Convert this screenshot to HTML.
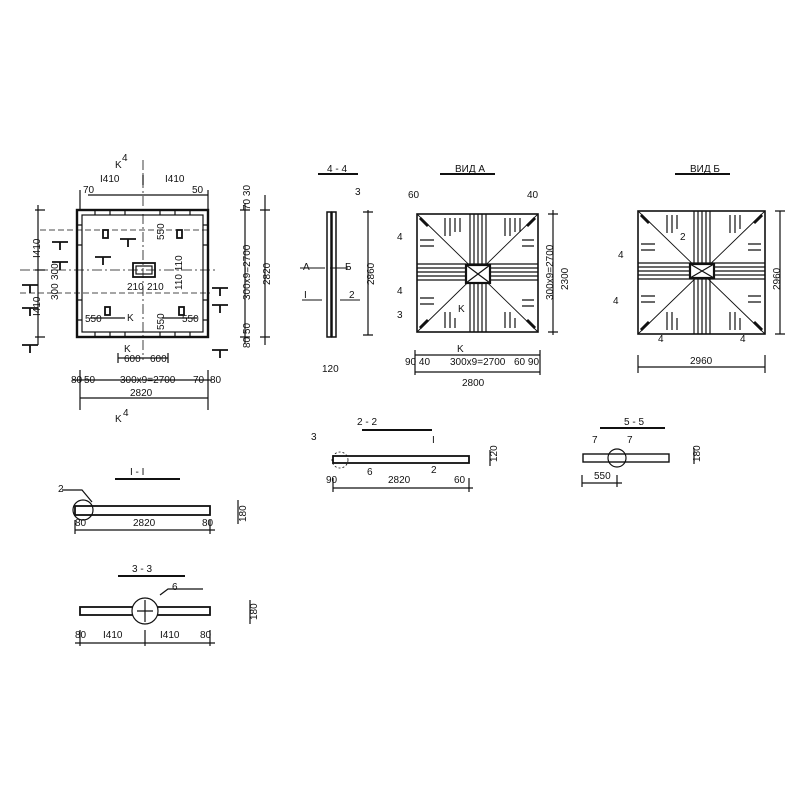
<!DOCTYPE html>
<html><head><meta charset="utf-8"><style>
html,body{margin:0;padding:0;background:#fff}
svg{display:block}
text{font-family:"Liberation Sans",sans-serif;font-size:10px;fill:#111}
</style></head><body>
<svg width="800" height="800" viewBox="0 0 800 800" xmlns="http://www.w3.org/2000/svg">
<g stroke="#111" fill="none" stroke-width="1.2">
<!-- ===== PLAN 1 ===== -->
<rect x="77" y="210" width="131" height="127" stroke-width="2.4"/>
<rect x="82" y="215" width="121" height="117"/>
<line x1="143" y1="160" x2="143" y2="360" stroke-dasharray="10,3,2,3" stroke-width="0.8"/>
<line x1="20" y1="270" x2="215" y2="270" stroke-dasharray="10,3,2,3" stroke-width="0.8"/>
<line x1="20" y1="293" x2="210" y2="293" stroke-dasharray="6,3" stroke-width="0.7"/>
<line x1="40" y1="230" x2="210" y2="230" stroke-dasharray="6,3" stroke-width="0.7"/>
<rect x="133" y="263" width="22" height="14" stroke-width="1.8"/>
<rect x="136" y="266" width="16" height="8"/>
<rect x="103" y="230" width="5" height="8" stroke-width="1.8"/>
<rect x="177" y="230" width="5" height="8" stroke-width="1.8"/>
<rect x="105" y="307" width="5" height="8" stroke-width="1.8"/>
<rect x="179" y="307" width="5" height="8" stroke-width="1.8"/>
<path d="M95 210v5M110 210v5M125 210v5M160 210v5M175 210v5M190 210v5M95 332v5M110 332v5M125 332v5M160 332v5M175 332v5M190 332v5M77 225h5M77 245h5M77 300h5M77 320h5M203 225h5M203 245h5M203 300h5M203 320h5"/>
<path d="M52 242h16M60 242v8M52 262h16M60 262v8M22 285h16M30 285v8M22 308h16M30 308v8M22 345h16M30 345v8M212 288h16M220 288v8M212 305h16M220 305v8M212 350h16M220 350v8M120 239h16M128 239v8M95 257h16M103 257v8" stroke-width="1.8"/>
<path d="M80 190v20M208 190v20M143 175v10M88 195h120"/>
<path d="M38 205v140M35 210h10M35 270h10M35 337h10"/>
<path d="M245 203v140M240 210h10M240 337h10M265 195v150M260 210h10M260 337h10"/>
<path d="M72 380h140M80 370v40M208 370v40M80 398h128M118 353v10M168 353v10M118 358h50"/>
<path d="M90 318h35M162 318h35"/>
</g>
<g>
<text x="115" y="168">K</text><text x="122" y="161" font-size="9">4</text>
<text x="100" y="182">I410</text><text x="165" y="182">I410</text>
<text x="83" y="193">70</text><text x="192" y="193">50</text>
<text x="85" y="322">550</text><text x="182" y="322">550</text>
<text x="127" y="290">210</text><text x="147" y="290">210</text>
<text x="124" y="362">600</text><text x="150" y="362">600</text>
<text x="71" y="383">80</text><text x="84" y="383">50</text>
<text x="120" y="383">300x9=2700</text>
<text x="193" y="383">70</text><text x="210" y="383">80</text>
<text x="130" y="396">2820</text>
<text x="115" y="422" font-size="12">K</text><text x="123" y="416" font-size="9">4</text>
<text x="127" y="321">K</text><text x="124" y="352">K</text>
<text transform="translate(40 258) rotate(-90)">I410</text>
<text transform="translate(40 316) rotate(-90)">I410</text>
<text transform="translate(58 280) rotate(-90)">300</text>
<text transform="translate(58 300) rotate(-90)">300</text>
<text transform="translate(164 240) rotate(-90)">550</text>
<text transform="translate(164 330) rotate(-90)">550</text>
<text transform="translate(182 290) rotate(-90)">110 110</text>
<text transform="translate(250 300) rotate(-90)">300x9=2700</text>
<text transform="translate(270 285) rotate(-90)">2820</text>
<text transform="translate(250 210) rotate(-90)">70 30</text>
<text transform="translate(250 348) rotate(-90)">80 50</text>
</g>

<!-- ===== 4-4 ===== -->
<g stroke="#111" fill="none" stroke-width="1.2">
<line x1="318" y1="174" x2="358" y2="174" stroke-width="2"/>
<rect x="327" y="212" width="4" height="125" stroke-width="1.5"/>
<rect x="332" y="212" width="4" height="125" stroke-width="1.5"/>
<path d="M368 210v125M363 212h10M363 335h10"/>
<path d="M300 268h25M330 268h18M302 300h20M340 300h20" stroke-width="0.9"/>
</g>
<g>
<text x="327" y="172">4 - 4</text><text x="355" y="195">3</text>
<text x="303" y="270">A</text><text x="345" y="270">Б</text>
<text x="304" y="298">I</text><text x="349" y="298">2</text>
<text x="322" y="372">120</text>
<text transform="translate(374 285) rotate(-90)">2860</text>
</g>

<!-- ===== VIEW A ===== -->
<g stroke="#111" fill="none" stroke-width="1.2">
<line x1="440" y1="174" x2="495" y2="174" stroke-width="2"/>
<rect x="417" y="214" width="121" height="118" stroke-width="1.6"/>
<path d="M417 214L538 332M538 214L417 332" stroke-width="0.9"/>
<path d="M470 214v118M474 214v118M478 214v118M482 214v118M486 214v118"/>
<path d="M417 264h121M417 268h121M417 272h121M417 276h121M417 280h121"/>
<rect x="466" y="265" width="24" height="18" stroke-width="2.2" fill="#fff"/>
<path d="M466 265l24 18M490 265l-24 18"/>
<path d="M445 218v18M450 218v18M455 218v14M460 218v14M505 218v18M510 218v18M515 218v14M520 218v14M445 312v16M450 312v16M455 318v10M505 312v16M510 312v16M515 318v10"/>
<path d="M420 240h14M420 246h14M420 298h14M420 304h14M522 240h12M522 246h12M522 300h12M522 306h12"/>
<path d="M420 218l8 8M535 218l-8 8M420 328l8-8M535 328l-8-8" stroke-width="3"/>
<path d="M553 210v125M548 214h10M548 332h10M415 355h125M415 350v25M540 350v25M415 372h125"/>
</g>
<g>
<text x="455" y="172">ВИД  А</text>
<text x="408" y="198">60</text><text x="527" y="198">40</text>
<text x="397" y="240">4</text><text x="397" y="294">4</text><text x="397" y="318">3</text>
<text x="458" y="312">K</text><text x="457" y="352">K</text>
<text x="405" y="365">90 40</text><text x="450" y="365">300x9=2700</text><text x="514" y="365">60 90</text>
<text x="462" y="386">2800</text>
<text transform="translate(553 300) rotate(-90)">300x9=2700</text>
<text transform="translate(568 290) rotate(-90)">2300</text>
</g>

<!-- ===== VIEW B ===== -->
<g stroke="#111" fill="none" stroke-width="1.2">
<line x1="675" y1="174" x2="730" y2="174" stroke-width="2"/>
<rect x="638" y="211" width="127" height="123" stroke-width="1.6"/>
<path d="M638 211L765 334M765 211L638 334" stroke-width="0.9"/>
<path d="M694 211v123M698 211v123M702 211v123M706 211v123M710 211v123"/>
<path d="M638 263h127M638 267h127M638 271h127M638 275h127M638 279h127"/>
<rect x="690" y="264" width="24" height="14" stroke-width="2.2" fill="#fff"/>
<path d="M690 264l24 14M714 264l-24 14"/>
<path d="M667 215v18M672 215v18M677 215v14M730 215v18M735 215v18M740 215v14M667 312v18M672 312v18M677 318v12M730 312v18M735 312v18M740 318v12"/>
<path d="M641 244h14M641 250h14M641 296h14M641 302h14M748 244h13M748 250h13M748 296h13M748 302h13"/>
<path d="M641 215l8 8M762 215l-8 8M641 330l8-8M762 330l-8-8" stroke-width="3"/>
<path d="M780 211v123M775 211h10M775 334h10M638 367h127M638 355v18M765 355v18"/>
</g>
<g>
<text x="690" y="172">ВИД  Б</text>
<text x="680" y="240">2</text><text x="618" y="258">4</text><text x="613" y="304">4</text>
<text x="658" y="342">4</text><text x="740" y="342">4</text>
<text x="690" y="364">2960</text>
<text transform="translate(780 290) rotate(-90)">2960</text>
</g>

<!-- ===== 2-2 ===== -->
<g stroke="#111" fill="none" stroke-width="1.2">
<line x1="362" y1="430" x2="432" y2="430" stroke-width="2"/>
<rect x="333" y="456" width="136" height="7" stroke-width="1.8"/>
<circle cx="340" cy="460" r="8" stroke-dasharray="2,2" stroke-width="0.8"/>
<path d="M333 488h140M333 478v14M469 478v14M490 450v16"/>
</g>
<g>
<text x="357" y="425">2 - 2</text><text x="311" y="440">3</text><text x="432" y="443">I</text>
<text x="367" y="475">6</text><text x="431" y="473">2</text>
<text x="326" y="483">90</text><text x="388" y="483">2820</text><text x="454" y="483">60</text>
<text transform="translate(497 462) rotate(-90)" font-size="8">120</text>
</g>

<!-- ===== 5-5 ===== -->
<g stroke="#111" fill="none" stroke-width="1.2">
<line x1="600" y1="428" x2="665" y2="428" stroke-width="2"/>
<rect x="583" y="454" width="86" height="8" stroke-width="1.4"/>
<circle cx="617" cy="458" r="9"/>
<path d="M582 483h40M582 475v12M617 475v12M694 448v16"/>
</g>
<g>
<text x="624" y="425">5 - 5</text><text x="592" y="443">7</text><text x="627" y="443">7</text>
<text x="594" y="479">550</text>
<text transform="translate(700 462) rotate(-90)" font-size="8">180</text>
</g>

<!-- ===== I-I ===== -->
<g stroke="#111" fill="none" stroke-width="1.2">
<line x1="115" y1="479" x2="180" y2="479" stroke-width="2"/>
<rect x="75" y="506" width="135" height="9" stroke-width="1.8"/>
<circle cx="83" cy="510" r="10"/>
<path d="M75 530h140M75 520v14M210 520v14M238 500v24M62 490h20l10 12"/>
</g>
<g>
<text x="130" y="475">I - I</text><text x="58" y="492">2</text>
<text x="75" y="526">80</text><text x="133" y="526">2820</text><text x="202" y="526">80</text>
<text transform="translate(246 522) rotate(-90)" font-size="8">180</text>
</g>

<!-- ===== 3-3 ===== -->
<g stroke="#111" fill="none" stroke-width="1.2">
<line x1="118" y1="576" x2="185" y2="576" stroke-width="2"/>
<rect x="80" y="607" width="130" height="8" stroke-width="1.8"/>
<circle cx="145" cy="611" r="13" fill="#fff"/>
<path d="M145 600v22M137 611h16M160 595l8-6h35"/>
<path d="M75 643h140M80 630v16M145 630v16M210 630v16M250 600v24"/>
</g>
<g>
<text x="132" y="572">3 - 3</text><text x="172" y="590">6</text>
<text x="75" y="638">80</text><text x="103" y="638">I410</text><text x="160" y="638">I410</text><text x="200" y="638">80</text>
<text transform="translate(257 620) rotate(-90)" font-size="8">180</text>
</g>
</svg>
</body></html>
